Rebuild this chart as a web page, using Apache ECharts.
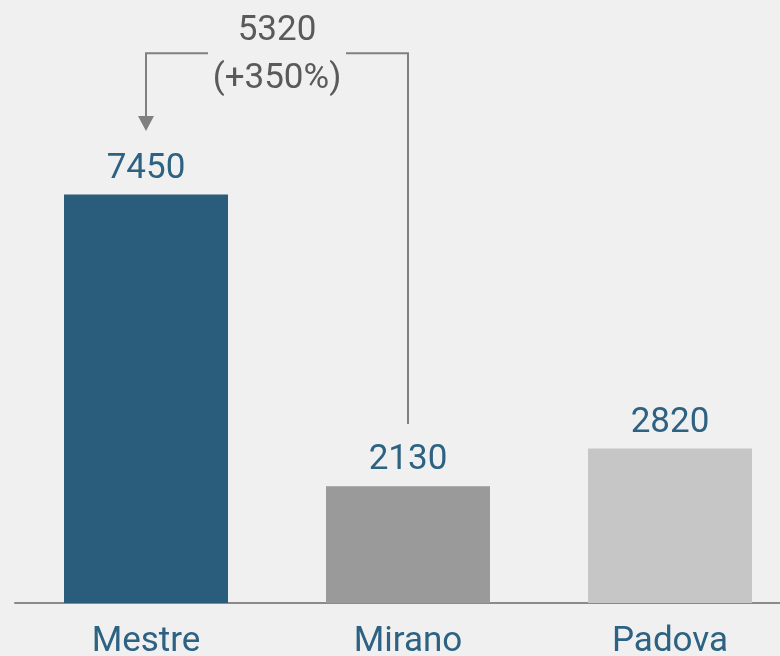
<!DOCTYPE html>
<html>
<head>
<meta charset="utf-8">
<script src="https://cdn.jsdelivr.net/npm/echarts@6/dist/echarts.min.js"></script>
<style>
  html, body { margin: 0; padding: 0; background: #f0f0f0; }
  #chart { width: 780px; height: 656px; }
</style>
</head>
<body>
<div id="chart"></div>
<script>
const categories = ["Mestre", "Mirano", "Padova"];
const values = [7450, 2130, 2820];
const barColors = ["#2a5d7c", "#9a9a9a", "#c6c6c6"];

// bracket annotation: from Mirano up and over to Mestre
const diffText = ["5320", "(+350%)"];
const bracket = [[0, 1, 10030, 8610, 3265]]; // [toCat, fromCat, topValue, arrowTipValue, fromValue]

const chart = echarts.init(document.getElementById("chart"));

chart.setOption({
  backgroundColor: "#f0f0f0",
  animation: false,
  textStyle: { fontFamily: "Roboto" },
  grid: { left: 15, right: -21, top: 0, bottom: 53, outerBoundsMode: "none", containLabel: false },
  xAxis: {
    type: "category",
    data: categories,
    axisTick: { show: false },
    axisLine: { lineStyle: { color: "#8a8a8a", width: 2 } },
    axisLabel: { color: "#2d6283", fontSize: 35, margin: 22 },
  },
  yAxis: { type: "value", min: 0, max: 11000, show: false, splitLine: { show: false } },
  series: [
    {
      type: "bar",
      barWidth: 164,
      data: values.map((v, i) => ({ value: v, itemStyle: { color: barColors[i] } })),
      label: { show: true, position: "top", distance: 8, color: "#2d6283", fontSize: 35 },
    },
    {
      type: "custom",
      data: bracket,
      renderItem: (params, api) => {
        const tip = api.coord([api.value(0), api.value(3)]);
        const topL = api.coord([api.value(0), api.value(2)]);
        const topR = api.coord([api.value(1), api.value(2)]);
        const bottom = api.coord([api.value(1), api.value(4)]);
        const mid = (topL[0] + topR[0]) / 2;
        const gap = 69;
        const line = { stroke: "#808080", lineWidth: 2, fill: null };
        return {
          type: "group",
          children: [
            { type: "polyline", shape: { points: [[mid - gap, topL[1]], topL, [tip[0], tip[1] - 14]] }, style: line },
            { type: "polyline", shape: { points: [[mid + gap, topR[1]], topR, bottom] }, style: line },
            {
              type: "polygon",
              shape: { points: [[tip[0] - 8, tip[1] - 15], [tip[0] + 8, tip[1] - 15], tip] },
              style: { fill: "#808080" },
            },
            {
              type: "text",
              x: mid,
              y: topL[1] + 2,
              style: {
                text: diffText.join("\n"),
                fill: "#5a5a5a",
                font: "35px Roboto",
                lineHeight: 48,
                align: "center",
                verticalAlign: "middle",
              },
            },
          ],
        };
      },
    },
  ],
});
</script>
</body>
</html>
